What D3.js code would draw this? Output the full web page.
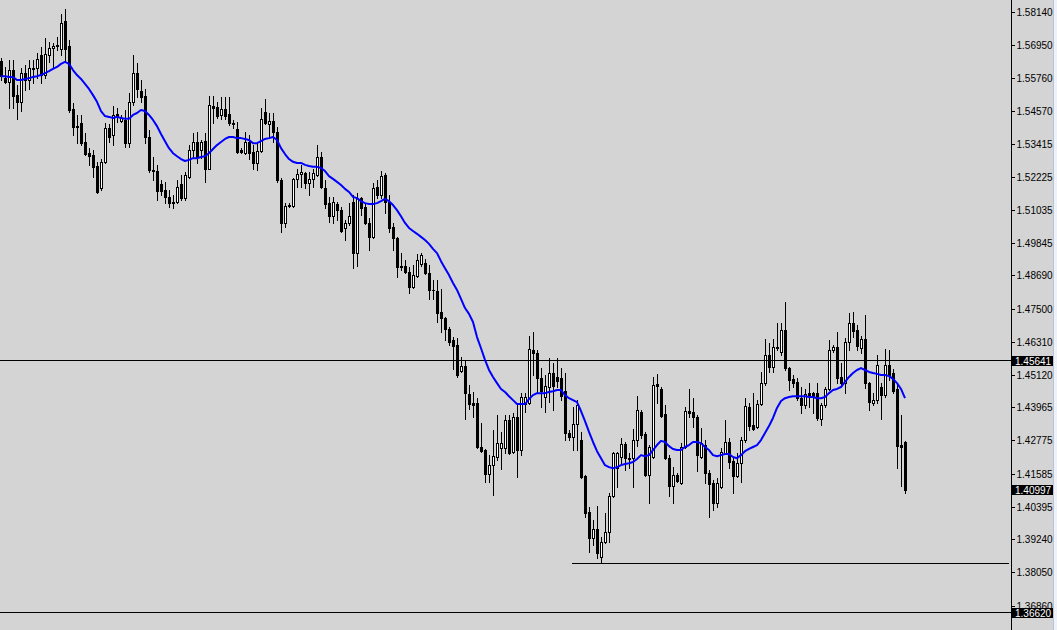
<!DOCTYPE html>
<html><head><meta charset="utf-8">
<script src="https://cdn.jsdelivr.net/npm/d3@7"></script>
<style>html,body{margin:0;padding:0;background:#d4d4d4;overflow:hidden}svg{display:block}</style>
</head><body><svg id="chart" width="1057" height="630"></svg>
<script>
const open=[1.5637,1.5576,1.5562,1.5605,1.5515,1.5491,1.5594,1.5569,1.5612,1.5612,
1.5659,1.5587,1.5659,1.5684,1.5695,1.5681,1.5780,1.5691,1.5466,1.5404,
1.5415,1.5347,1.5307,1.5300,1.5261,1.5182,1.5276,1.5397,1.5372,1.5448,
1.5422,1.5426,1.5343,1.5491,1.5594,1.5529,1.5511,1.5365,1.5247,1.5243,
1.5197,1.5175,1.5150,1.5132,1.5132,1.5197,1.5146,1.5222,1.5318,1.5347,
1.5318,1.5350,1.5251,1.5476,1.5473,1.5444,1.5466,1.5448,1.5415,1.5394,
1.5318,1.5307,1.5347,1.5311,1.5272,1.5314,1.5455,1.5412,1.5422,1.5383,
1.5211,1.5057,1.5117,1.5117,1.5215,1.5233,1.5236,1.5200,1.5215,1.5229,
1.5293,1.5182,1.5128,1.5081,1.5125,1.5103,1.5039,1.5057,1.5132,1.4949,
1.5146,1.5114,1.5057,1.5007,1.5186,1.5157,1.5229,1.5132,1.5043,1.5003,
1.4902,1.4902,1.4881,1.4828,1.4866,1.4910,1.4913,1.4877,1.4817,1.4813,
1.4738,1.4716,1.4677,1.4637,1.4619,1.4526,1.4544,1.4444,1.4411,1.4411,
1.4254,1.4243,1.4157,1.4189,1.4218,1.4250,1.4250,1.4351,1.4236,1.4362,
1.4243,1.4408,1.4411,1.4602,1.4591,1.4501,1.4433,1.4469,1.4519,1.4505,
1.4501,1.4454,1.4304,1.4290,1.4337,1.4279,1.4149,1.4021,1.3927,1.3960,
1.3860,1.3914,1.3949,1.4078,1.4178,1.4218,1.4265,1.4214,1.4214,1.4279,
1.4380,1.4301,1.4153,1.4218,1.4480,1.4462,1.4373,1.4214,1.4114,1.4153,
1.4125,1.4254,1.4383,1.4380,1.4362,1.4218,1.4261,1.4160,1.4125,1.4053,
1.4111,1.4232,1.4272,1.4203,1.4149,1.4196,1.4279,1.4397,1.4333,1.4326,
1.4408,1.4483,1.4584,1.4541,1.4608,1.4595,1.4673,1.4537,1.4498,1.4487,
1.4429,1.4404,1.4447,1.4447,1.4447,1.4355,1.4404,1.4462,1.4602,1.4612,
1.4505,1.4483,1.4630,1.4698,1.4673,1.4608,1.4641,1.4483,1.4411,1.4422,
1.4469,1.4440,1.4548,1.4519,1.4462,1.4261,1.4272];
const high=[1.5648,1.5616,1.5641,1.5641,1.5551,1.5612,1.5623,1.5641,1.5641,1.5666,
1.5688,1.5719,1.5706,1.5702,1.5723,1.5806,1.5824,1.5713,1.5487,1.5444,
1.5444,1.5379,1.5325,1.5318,1.5276,1.5286,1.5415,1.5412,1.5476,1.5469,
1.5444,1.5462,1.5522,1.5659,1.5630,1.5569,1.5537,1.5390,1.5293,1.5265,
1.5211,1.5204,1.5175,1.5157,1.5211,1.5229,1.5240,1.5336,1.5379,1.5383,
1.5354,1.5379,1.5511,1.5511,1.5491,1.5508,1.5508,1.5508,1.5426,1.5419,
1.5325,1.5383,1.5372,1.5336,1.5343,1.5469,1.5501,1.5451,1.5451,1.5401,
1.5218,1.5128,1.5128,1.5218,1.5251,1.5265,1.5240,1.5240,1.5251,1.5336,
1.5311,1.5211,1.5150,1.5150,1.5132,1.5114,1.5068,1.5128,1.5157,1.5164,
1.5150,1.5128,1.5074,1.5200,1.5211,1.5243,1.5236,1.5157,1.5057,1.5007,
1.4949,1.4924,1.4899,1.4906,1.4946,1.4949,1.4928,1.4906,1.4853,1.4853,
1.4821,1.4720,1.4684,1.4648,1.4644,1.4577,1.4566,1.4476,1.4451,1.4429,
1.4340,1.4247,1.4225,1.4315,1.4369,1.4308,1.4369,1.4369,1.4376,1.4404,
1.4447,1.4447,1.4651,1.4666,1.4602,1.4537,1.4512,1.4573,1.4555,1.4573,
1.4537,1.4519,1.4315,1.4397,1.4422,1.4308,1.4153,1.4039,1.3992,1.4042,
1.3931,1.4017,1.4089,1.4236,1.4236,1.4286,1.4272,1.4232,1.4319,1.4436,
1.4387,1.4308,1.4261,1.4505,1.4516,1.4469,1.4404,1.4225,1.4182,1.4160,
1.4268,1.4397,1.4462,1.4429,1.4369,1.4322,1.4279,1.4171,1.4136,1.4143,
1.4250,1.4351,1.4286,1.4214,1.4232,1.4290,1.4429,1.4411,1.4447,1.4422,
1.4523,1.4641,1.4626,1.4641,1.4698,1.4698,1.4774,1.4541,1.4512,1.4501,
1.4469,1.4462,1.4483,1.4451,1.4483,1.4411,1.4469,1.4637,1.4619,1.4666,
1.4555,1.4644,1.4734,1.4738,1.4691,1.4651,1.4727,1.4487,1.4447,1.4584,
1.4483,1.4605,1.4602,1.4533,1.4476,1.4369,1.4276];
const low=[1.5569,1.5558,1.5469,1.5469,1.5430,1.5458,1.5533,1.5537,1.5558,1.5576,
1.5558,1.5576,1.5634,1.5616,1.5677,1.5659,1.5634,1.5455,1.5372,1.5343,
1.5336,1.5300,1.5265,1.5222,1.5164,1.5175,1.5272,1.5347,1.5336,1.5419,
1.5419,1.5329,1.5329,1.5480,1.5508,1.5491,1.5343,1.5240,1.5211,1.5139,
1.5157,1.5128,1.5114,1.5110,1.5128,1.5139,1.5139,1.5218,1.5289,1.5272,
1.5289,1.5204,1.5251,1.5415,1.5433,1.5430,1.5430,1.5408,1.5397,1.5307,
1.5307,1.5304,1.5286,1.5251,1.5247,1.5311,1.5412,1.5361,1.5347,1.5204,
1.5025,1.5043,1.5114,1.5114,1.5186,1.5186,1.5182,1.5157,1.5186,1.5225,
1.5182,1.5110,1.5061,1.5057,1.5068,1.5025,1.4996,1.5050,1.4895,1.4902,
1.5085,1.5054,1.4960,1.5003,1.5146,1.5146,1.5092,1.5025,1.4960,1.4863,
1.4888,1.4877,1.4806,1.4824,1.4863,1.4902,1.4874,1.4785,1.4785,1.4702,
1.4666,1.4637,1.4619,1.4534,1.4505,1.4524,1.4355,1.4390,1.4362,1.4250,
1.4236,1.4129,1.4129,1.4082,1.4207,1.4175,1.4232,1.4229,1.4232,1.4146,
1.4225,1.4380,1.4408,1.4512,1.4447,1.4397,1.4380,1.4415,1.4387,1.4469,
1.4422,1.4279,1.4279,1.4243,1.4243,1.4143,1.4003,1.3878,1.3903,1.3856,
1.3838,1.3910,1.3914,1.4075,1.4111,1.4196,1.4171,1.4178,1.4111,1.4257,
1.4286,1.4149,1.4053,1.4214,1.4411,1.4362,1.4211,1.4078,1.4053,1.4129,
1.4122,1.4250,1.4362,1.4326,1.4167,1.4216,1.4125,1.4003,1.4028,1.4039,
1.4107,1.4229,1.4178,1.4089,1.4146,1.4129,1.4272,1.4315,1.4315,1.4322,
1.4404,1.4476,1.4523,1.4523,1.4602,1.4584,1.4530,1.4458,1.4469,1.4422,
1.4376,1.4393,1.4397,1.4376,1.4351,1.4333,1.4397,1.4458,1.4595,1.4483,
1.4476,1.4447,1.4602,1.4648,1.4602,1.4591,1.4465,1.4387,1.4404,1.4411,
1.4355,1.4433,1.4494,1.4447,1.4178,1.4114,1.4089];
const close=[1.5583,1.5562,1.5605,1.5511,1.5491,1.5594,1.5569,1.5612,1.5609,1.5645,
1.5587,1.5663,1.5684,1.5691,1.5691,1.5773,1.5681,1.5462,1.5401,1.5402,
1.5343,1.5304,1.5296,1.5258,1.5168,1.5276,1.5397,1.5365,1.5444,1.5437,
1.5433,1.5343,1.5491,1.5594,1.5537,1.5508,1.5365,1.5247,1.5243,1.5171,
1.5171,1.5150,1.5128,1.5128,1.5186,1.5146,1.5229,1.5318,1.5347,1.5293,
1.5347,1.5251,1.5480,1.5469,1.5440,1.5466,1.5440,1.5415,1.5413,1.5311,
1.5311,1.5347,1.5307,1.5272,1.5314,1.5430,1.5415,1.5422,1.5383,1.5211,
1.5057,1.5117,1.5121,1.5215,1.5233,1.5240,1.5200,1.5215,1.5236,1.5293,
1.5186,1.5125,1.5081,1.5132,1.5103,1.5028,1.5057,1.5081,1.4949,1.5146,
1.5110,1.5057,1.5007,1.5182,1.5157,1.5225,1.5132,1.5039,1.5003,1.4899,
1.4900,1.4881,1.4828,1.4870,1.4924,1.4942,1.4877,1.4817,1.4815,1.4734,
1.4716,1.4677,1.4630,1.4615,1.4512,1.4544,1.4447,1.4408,1.4404,1.4254,
1.4239,1.4157,1.4189,1.4221,1.4268,1.4268,1.4351,1.4234,1.4362,1.4243,
1.4433,1.4433,1.4605,1.4591,1.4501,1.4454,1.4472,1.4519,1.4472,1.4490,
1.4436,1.4304,1.4290,1.4337,1.4404,1.4146,1.4017,1.3927,1.3960,1.3874,
1.3914,1.3949,1.4078,1.4232,1.4232,1.4265,1.4214,1.4212,1.4279,1.4387,
1.4297,1.4153,1.4254,1.4476,1.4472,1.4365,1.4214,1.4114,1.4153,1.4132,
1.4254,1.4383,1.4376,1.4362,1.4225,1.4268,1.4160,1.4122,1.4053,1.4125,
1.4236,1.4272,1.4200,1.4149,1.4196,1.4279,1.4400,1.4329,1.4319,1.4408,
1.4483,1.4584,1.4541,1.4612,1.4612,1.4673,1.4537,1.4494,1.4483,1.4429,
1.4404,1.4444,1.4436,1.4436,1.4358,1.4404,1.4462,1.4602,1.4612,1.4501,
1.4483,1.4630,1.4698,1.4669,1.4615,1.4641,1.4483,1.4415,1.4422,1.4548,
1.4440,1.4548,1.4512,1.4454,1.4257,1.4254,1.40997];
const ma=[1.5583,1.5583,1.5580,1.5580,1.5569,1.5569,1.5573,1.5576,1.5580,1.5583,
1.5587,1.5594,1.5601,1.5609,1.5616,1.5627,1.5634,1.5627,1.5605,1.5587,
1.5573,1.5555,1.5537,1.5515,1.5491,1.5458,1.5440,1.5437,1.5433,1.5437,
1.5433,1.5430,1.5430,1.5444,1.5451,1.5462,1.5458,1.5444,1.5426,1.5404,
1.5376,1.5350,1.5325,1.5307,1.5296,1.5286,1.5279,1.5283,1.5289,1.5289,
1.5293,1.5296,1.5307,1.5322,1.5336,1.5347,1.5358,1.5365,1.5365,1.5361,
1.5361,1.5358,1.5354,1.5343,1.5343,1.5350,1.5358,1.5361,1.5365,1.5354,
1.5325,1.5304,1.5286,1.5276,1.5272,1.5272,1.5265,1.5261,1.5258,1.5258,
1.5254,1.5243,1.5225,1.5215,1.5204,1.5193,1.5179,1.5168,1.5150,1.5146,
1.5135,1.5128,1.5125,1.5125,1.5128,1.5135,1.5143,1.5135,1.5121,1.5103,
1.5081,1.5057,1.5039,1.5028,1.5018,1.5007,1.4996,1.4982,1.4964,1.4949,
1.4920,1.4895,1.4870,1.4842,1.4817,1.4785,1.4752,1.4731,1.4702,1.4648,
1.4608,1.4566,1.4530,1.4505,1.4483,1.4462,1.4451,1.4436,1.4422,1.4408,
1.4408,1.4408,1.4426,1.4440,1.4447,1.4447,1.4447,1.4451,1.4454,1.4458,
1.4458,1.4440,1.4429,1.4422,1.4415,1.4383,1.4347,1.4308,1.4272,1.4239,
1.4214,1.4189,1.4182,1.4178,1.4182,1.4189,1.4193,1.4196,1.4200,1.4211,
1.4225,1.4221,1.4225,1.4243,1.4261,1.4276,1.4272,1.4257,1.4247,1.4243,
1.4243,1.4254,1.4261,1.4272,1.4272,1.4268,1.4254,1.4243,1.4225,1.4221,
1.4225,1.4229,1.4229,1.4218,1.4214,1.4225,1.4239,1.4247,1.4254,1.4261,
1.4279,1.4304,1.4329,1.4358,1.4394,1.4419,1.4429,1.4433,1.4436,1.4436,
1.4436,1.4436,1.4433,1.4433,1.4429,1.4429,1.4433,1.4447,1.4458,1.4462,
1.4469,1.4487,1.4505,1.4519,1.4530,1.4537,1.4530,1.4523,1.4519,1.4516,
1.4512,1.4512,1.4508,1.4498,1.4483,1.4462,1.4429];
const tickValues=[1.58140,1.56950,1.55760,1.54570,1.53415,1.52225,1.51035,1.49845,1.48690,1.47500,1.46310,1.45120,1.43965,1.42775,1.41585,1.40395,1.39240,1.38050,1.36860];
const levelLines=[1.45641,1.36620];
const supportLevel=1.3838;
const supportStartIndex=143;
const priceBoxes=[1.45641,1.40997,1.36620];

const W=1057,H=630,axisX=1011;
const N=open.length;
const svg=d3.select('#chart');
const x=d3.scaleLinear().domain([0,N-1]).range([1,905]);
const y=d3.scaleLinear().domain([1.3686,1.5814]).range([605.5,11.7]);
const py=v=>Math.round(y(v));
const px=i=>Math.round(x(i));

svg.append('rect').attr('width',W).attr('height',H).attr('fill','#d4d4d4');
svg.append('rect').attr('x',1053).attr('width',4).attr('height',H).attr('fill','#eef1f7');
svg.append('rect').attr('x',1053).attr('width',1).attr('height',H).attr('fill','#b8c4d8');

const idx=d3.range(N);
const g=svg.append('g').attr('shape-rendering','crispEdges');
g.selectAll('rect.wick').data(idx).join('rect').attr('class','wick')
 .attr('x',i=>px(i)).attr('y',i=>py(high[i]))
 .attr('width',1).attr('height',i=>py(low[i])-py(high[i])+1).attr('fill','#000');
g.selectAll('rect.body').data(idx).join('rect').attr('class','body')
 .attr('x',i=>px(i)-1).attr('y',i=>Math.min(py(open[i]),py(close[i])))
 .attr('width',3).attr('height',i=>Math.abs(py(open[i])-py(close[i]))+1).attr('fill','#000');
const bulls=idx.filter(i=>close[i]>open[i] && Math.abs(py(open[i])-py(close[i]))>=2);
g.selectAll('rect.fill').data(bulls).join('rect').attr('class','fill')
 .attr('x',i=>px(i)).attr('y',i=>py(close[i])+1)
 .attr('width',1).attr('height',i=>py(open[i])-py(close[i])-1).attr('fill','#fff');

// horizontal levels
g.selectAll('line.lvl').data(levelLines).join('line').attr('class','lvl')
 .attr('x1',0).attr('x2',axisX).attr('y1',v=>py(v)+0.5).attr('y2',v=>py(v)+0.5)
 .attr('stroke','#000').attr('stroke-width',1);
g.append('line').attr('x1',px(supportStartIndex)-1).attr('x2',1009)
 .attr('y1',py(supportLevel)+0.5).attr('y2',py(supportLevel)+0.5)
 .attr('stroke','#000').attr('stroke-width',1);

// moving average
svg.append('path').datum(idx).attr('fill','none').attr('stroke','#0000ff').attr('stroke-width',2)
 .attr('stroke-linejoin','round')
 .attr('d',d3.line().x(i=>x(i)).y(i=>y(ma[i])));

// axis
const axis=d3.axisRight(y).tickValues(tickValues).tickSize(3).tickPadding(2).tickFormat(d3.format('.5f'));
const ag=svg.append('g').attr('transform',`translate(${axisX+0.5},0)`).call(axis);
ag.select('.domain').remove();
ag.selectAll('.tick').attr('transform',d=>`translate(0,${py(d)+0.5})`);
ag.selectAll('.tick line').attr('stroke','#000').attr('shape-rendering','crispEdges');
ag.selectAll('.tick text').attr('fill','#000').attr('font-family','"Liberation Sans", Arial, sans-serif').attr('font-size','10px');
svg.append('rect').attr('x',axisX).attr('y',0).attr('width',1).attr('height',H).attr('fill','#000');

// price boxes
const bx=svg.append('g');
bx.selectAll('rect').data(priceBoxes).join('rect')
 .attr('x',axisX+1).attr('y',v=>Math.round(y(v)-4.6)).attr('width',41).attr('height',10).attr('fill','#000');
bx.selectAll('text').data(priceBoxes).join('text')
 .attr('x',axisX+4).attr('y',v=>Math.round(y(v)-4.6)+5).attr('dy','0.35em')
 .attr('fill','#fff').attr('font-family','"Liberation Sans", Arial, sans-serif').attr('font-size','10px')
 .text(d3.format('.5f'));
</script></body></html>
